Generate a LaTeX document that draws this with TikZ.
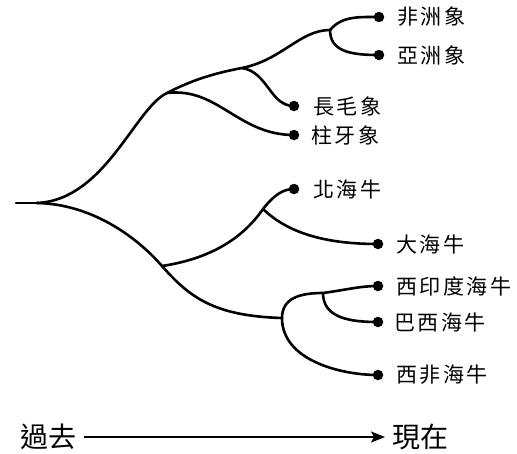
\documentclass[tikz,border=0pt]{standalone}
\usepackage{fontspec}
\newfontfamily\cjk{Noto Sans CJK TC}
\usetikzlibrary{arrows.meta}
\def\lsp#1{\lsploop#1\relax}
\def\lsploop#1{\ifx#1\relax\else#1\kern2.5pt\expandafter\lsploop\fi}
\begin{document}
\begin{tikzpicture}[x=1pt,y=-1pt,
  branch/.style={line width=2.6pt, line cap=round},
  leaf/.style={circle, fill=black, inner sep=0pt, minimum size=10.5pt},
  lab/.style={anchor=west, inner sep=0pt, font=\cjk\fontsize{21}{21}\selectfont},
  timelab/.style={anchor=west, inner sep=0pt, font=\cjk\fontsize{28}{28}\selectfont}]
\useasboundingbox (0,0) rectangle (517,453);
% junctions
\coordinate (root0) at (16,203);
\coordinate (r) at (37,203);
\coordinate (e1) at (167,93);
\coordinate (e2) at (242,68);
\coordinate (e3) at (330,30);
\coordinate (m1) at (162,266);
\coordinate (m2) at (263,209);
\coordinate (m3) at (282,318);
\coordinate (m4) at (323,293);
% leaves
\coordinate (afr) at (379,17);
\coordinate (asi) at (379,55);
\coordinate (mam) at (294,106);
\coordinate (mas) at (294,135);
\coordinate (nor) at (294,189);
\coordinate (ste) at (378,244);
\coordinate (win) at (378,286);
\coordinate (bra) at (378,322);
\coordinate (waf) at (378,375);
% tree
\draw[branch] (root0) -- (r);
\draw[branch] (r) .. controls (105,200) and (135,108) .. (e1) .. controls (192,80) and (215,73) .. (e2) .. controls (282,60) and (300,30) .. (e3);
\draw[branch] (e3) .. controls (342,16) and (358,17) .. (afr);
\draw[branch] (e3) .. controls (330,52) and (352,55) .. (asi);
\draw[branch] (e2) .. controls (268,72) and (270,106) .. (mam);
\draw[branch] (e1) .. controls (218,87) and (238,135) .. (mas);
\draw[branch] (r) .. controls (90,204) and (135,235) .. (m1) .. controls (190,298) and (215,316) .. (m3);
\draw[branch] (m1) .. controls (215,258) and (245,235) .. (m2) .. controls (274,195) and (283,189) .. (nor);
\draw[branch] (m2) .. controls (290,235) and (330,244) .. (ste);
\draw[branch] (m3) .. controls (282,298) and (300,293) .. (m4) .. controls (345,290) and (360,286) .. (win);
\draw[branch] (m4) .. controls (323,318) and (350,322) .. (bra);
\draw[branch] (m3) .. controls (282,360) and (340,375) .. (waf);
% dots
\foreach \p in {afr,asi,mam,mas,nor,ste,win,bra,waf} \node[leaf] (d\p) at (\p) {};
% labels
\node[lab] (tafr) at ([xshift=18pt]afr) {\lsp{非洲象}};
\node[lab] (tasi) at ([xshift=18pt]asi) {\lsp{亞洲象}};
\node[lab] (tmam) at ([xshift=19pt]mam) {\lsp{長毛象}};
\node[lab] (tmas) at ([xshift=17pt]mas) {\lsp{柱牙象}};
\node[lab] (tnor) at ([xshift=19pt]nor) {\lsp{北海牛}};
\node[lab] (tste) at ([xshift=18pt]ste) {\lsp{大海牛}};
\node[lab] (twin) at ([xshift=18pt]win) {\lsp{西印度海牛}};
\node[lab] (tbra) at ([xshift=16pt]bra) {\lsp{巴西海牛}};
\node[lab] (twaf) at ([xshift=18pt]waf) {\lsp{西非海牛}};
% time axis
\node[timelab] (past) at (20,437) {過去};
\node[timelab] (now) at (392,437) {現在};
\draw[line width=1.6pt, -{Stealth[length=14pt,width=11pt,inset=3pt]}, shorten <=8pt, shorten >=7pt] (past.east) -- (now.west |- past.east);
\end{tikzpicture}
\end{document}
